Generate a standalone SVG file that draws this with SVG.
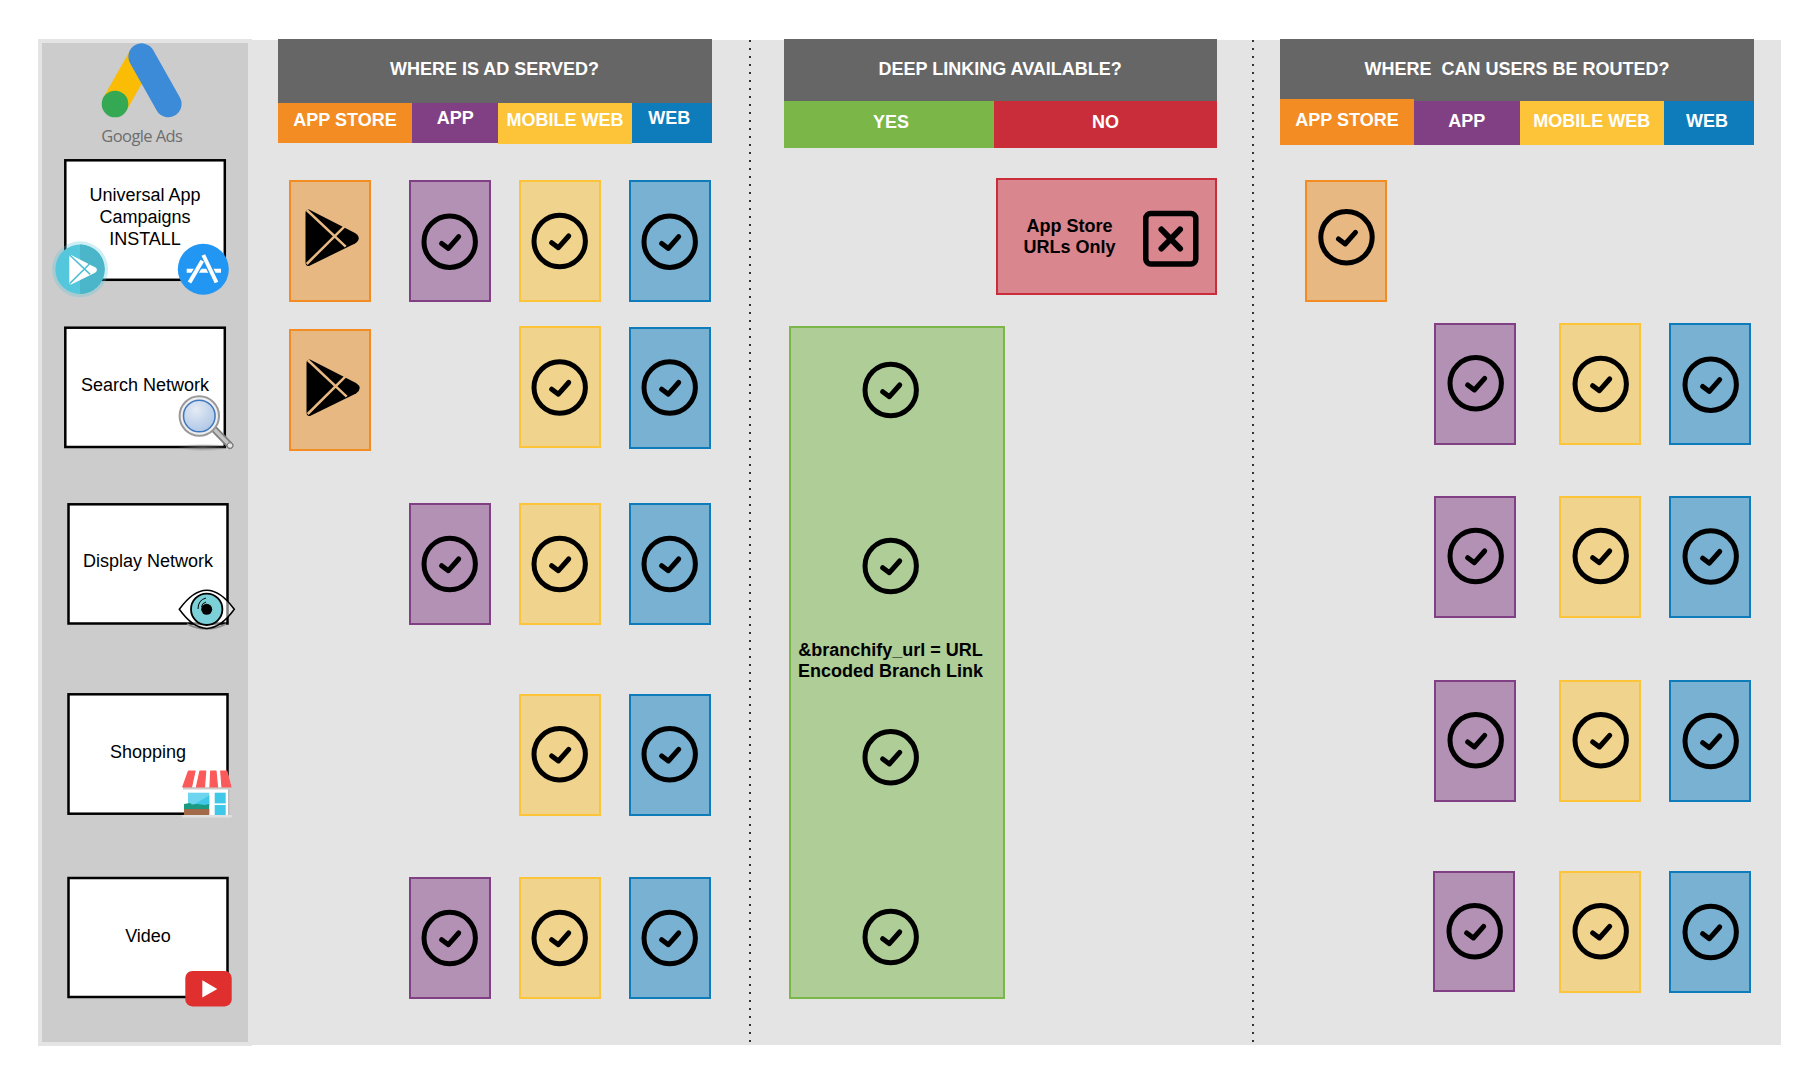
<svg xmlns="http://www.w3.org/2000/svg" width="1820" height="1085" viewBox="0 0 1820 1085">
<style>
text{font-family:"Liberation Sans",Arial,sans-serif;text-anchor:middle}
.h{font-size:18px;font-weight:700;fill:#fff}
.l{font-size:18px;fill:#000}
.b{font-size:18px;font-weight:700;fill:#000}
.box{fill:#fff;stroke:#000;stroke-width:2.5}
.co{fill:#e8b883;stroke:#f28c23;stroke-width:2}
.cp{fill:#b391b4;stroke:#824084;stroke-width:2}
.cy{fill:#f0d38c;stroke:#fdc43a;stroke-width:2}
.cb{fill:#78b1d1;stroke:#0e7cba;stroke-width:2}
.sep{stroke:#333;stroke-width:2;stroke-dasharray:2 6;fill:none}
</style>
<defs>
<g id="ok"><circle r="25.700" fill="none" stroke="#000" stroke-width="5"/><path d="M-8 1.700L-1.300 6.700L9 -5" fill="none" stroke="#000" stroke-width="5" stroke-linecap="round" stroke-linejoin="round"/></g>
<path id="pl" d="M309 209.500L355 233Q362.500 238 355 243.500L309 266Q305.500 266.500 305.500 262L305.500 213Q305.500 209 309 209.500Z"/>
<radialGradient id="lens" cx="0.400" cy="0.300" r="0.800"><stop offset="0" stop-color="#e4ebf4"/><stop offset="1" stop-color="#a9c3e4"/></radialGradient>
<radialGradient id="shad"><stop offset="0" stop-color="#666" stop-opacity=".7"/><stop offset="1" stop-color="#888" stop-opacity="0"/></radialGradient>
</defs>

<g id="background">
<rect x="38" y="40" width="1743" height="1005" fill="#e4e4e4"/>
<rect x="38" y="39" width="214" height="1007" fill="#e4e4e4"/>
<rect x="42" y="43" width="206" height="999" fill="#ccc"/>
</g>

<g id="connectors">
<line class="sep" x1="750" y1="40" x2="750" y2="1045"/>
<line class="sep" x1="1253" y1="40" x2="1253" y2="1045"/>
</g>

<g id="header-served">
<rect x="278" y="39" width="434" height="64" fill="#666"/>
<text class="h" x="494.500" y="75">WHERE IS AD SERVED?</text>
<rect x="278" y="103" width="134" height="40" fill="#f28c23"/><text class="h" x="345" y="126">APP STORE</text>
<rect x="412" y="103" width="86" height="40" fill="#824084"/><text class="h" x="455.300" y="124.300">APP</text>
<rect x="498" y="103" width="134" height="41" fill="#fdc43a"/><text class="h" x="565" y="125.700">MOBILE WEB</text>
<rect x="632" y="103" width="80" height="40" fill="#0e7cba"/><text class="h" x="669.200" y="124.300">WEB</text>
</g>
<g id="header-deeplink">
<rect x="784" y="39" width="433" height="62" fill="#666"/>
<text class="h" x="1000.200" y="75">DEEP LINKING AVAILABLE?</text>
<rect x="784" y="101" width="210" height="47" fill="#7ab648"/><text class="h" x="891" y="128">YES</text>
<rect x="994" y="101" width="223" height="47" fill="#c92d39"/><text class="h" x="1105.400" y="128">NO</text>
</g>
<g id="header-routed">
<rect x="1280" y="39" width="474" height="62" fill="#666"/>
<text class="h" x="1517" y="75" xml:space="preserve">WHERE  CAN USERS BE ROUTED?</text>
<rect x="1280" y="99" width="134" height="46" fill="#f28c23"/><text class="h" x="1347" y="126">APP STORE</text>
<rect x="1414" y="101" width="106" height="44" fill="#824084"/><text class="h" x="1466.800" y="126.700">APP</text>
<rect x="1520" y="101" width="144" height="44" fill="#fdc43a"/><text class="h" x="1591.800" y="126.700">MOBILE WEB</text>
<rect x="1664" y="101" width="90" height="44" fill="#0e7cba"/><text class="h" x="1707" y="126.700">WEB</text>
</g>

<g id="google-ads-logo">
<line x1="115" y1="104" x2="141.700" y2="56.700" stroke="#fabc04" stroke-width="26.600"/>
<line x1="141.700" y1="56.700" x2="168.300" y2="104" stroke="#3c8bd9" stroke-width="26.600" stroke-linecap="round"/>
<circle cx="115" cy="104" r="13.300" fill="#34a853"/>
<text x="141.800" y="142" style="font-family:'Open Sans',sans-serif;font-size:16.500px;letter-spacing:-.6px" fill="#6e6e6e">Google Ads</text>
</g>

<g id="node-uac">
<rect class="box" x="65.300" y="160.300" width="159.500" height="119.500"/>
<text class="l" x="145" y="201.200">Universal App</text><text class="l" x="145" y="222.800">Campaigns</text><text class="l" x="145" y="244.500">INSTALL</text>
<circle cx="80" cy="269.300" r="28" fill="#5cc8dc" opacity=".3"/>
<circle cx="80" cy="269.300" r="24.700" fill="#55c7dd"/>
<path d="M80 244.600A24.700 24.700 0 0 1 80 294Z" fill="#4bb5c9"/>
<g transform="translate(69.300 255) scale(.52) translate(-305.500 -209.500)"><use href="#pl" fill="#fff"/><path d="M306.700 210L345.700 246.700M306.700 264L344.300 226.700" stroke="#50bfd4" stroke-width="3"/></g>
<circle cx="203.300" cy="269.300" r="25.500" fill="#2196f3"/>
<line x1="186.700" y1="270.700" x2="221" y2="270.700" stroke="#fff" stroke-width="4"/>
<line x1="202.300" y1="260.700" x2="189.500" y2="282.500" stroke="#2196f3" stroke-width="6.500"/>
<line x1="203.300" y1="255" x2="216.500" y2="282.500" stroke="#2196f3" stroke-width="6.500"/>
<line x1="202.300" y1="260.700" x2="189.500" y2="282.500" stroke="#fff" stroke-width="4"/>
<line x1="203.300" y1="255" x2="216.500" y2="282.500" stroke="#fff" stroke-width="4"/>
</g>

<g id="node-search">
<rect class="box" x="65.300" y="327.700" width="159.500" height="119.300"/>
<text class="l" x="145" y="391">Search Network</text>
<ellipse cx="203" cy="447.500" rx="26" ry="4" fill="url(#shad)"/>
<line x1="215" y1="430" x2="230" y2="445.500" stroke="#7f7f7f" stroke-width="7" stroke-linecap="round"/>
<line x1="215" y1="430" x2="230" y2="445.500" stroke="#c4c4c4" stroke-width="3.500" stroke-linecap="round"/>
<circle cx="230" cy="445.500" r="2.800" fill="#e4e4e4" stroke="#777"/>
<circle cx="199.300" cy="416" r="19.700" fill="#eee" stroke="#999" stroke-width="2"/>
<circle cx="199.300" cy="416" r="15.800" fill="url(#lens)" stroke="#3f76bd" stroke-width="1.500"/>
</g>

<g id="node-display">
<rect class="box" x="68.500" y="504.300" width="159" height="119.200"/>
<text class="l" x="148" y="567.300">Display Network</text>
<path d="M187 624Q206.700 634 226 624" fill="none" stroke="#888" stroke-width="1.500"/>
<path d="M179.300 609.300Q206.700 571 234.300 609.300Q206.700 647.500 179.300 609.300Z" fill="#fff" fill-opacity=".5" stroke="#000" stroke-width="1.500"/>
<circle cx="206.700" cy="609.300" r="15.700" fill="#7cd0d8" stroke="#000" stroke-width="1.800"/>
<circle cx="206.700" cy="609.300" r="5.500" fill="#000"/>
<path d="M198 609Q198 600 206 598M201.500 607Q202 603 206 602" fill="none" stroke="#000" stroke-width="1"/>
</g>

<g id="node-shopping">
<rect class="box" x="68.500" y="694.300" width="159" height="119.400"/>
<text class="l" x="148" y="758.300">Shopping</text>
<rect x="185" y="788" width="43" height="27" fill="#fff"/>
<rect x="228" y="788" width="1.500" height="27" fill="#bbb"/>
<rect x="188" y="792.700" width="21.300" height="20.300" fill="#6dd5f0"/>
<path d="M188 808L209.300 795.500V806L200 813H188Z" fill="#3fc8e8"/>
<rect x="214.700" y="792.700" width="11" height="10.700" fill="#3fc8e8"/>
<rect x="214.700" y="805" width="11" height="10" fill="#3fc8e8"/>
<path d="M184 804L190 803L192 804.500L197 804L205 805L209 804V809H184Z" fill="#1a9a80"/>
<rect x="184" y="809" width="25.300" height="6" fill="#a36a4a"/>
<rect x="182" y="815" width="49.700" height="2.500" fill="#e0e0e0"/>
<path d="M182 787H231.700L226.700 771H187Z" fill="#fff"/>
<rect x="183" y="787" width="47.700" height="2.500" fill="#ccc"/>
<path d="M182.800 787H191.500L195 771H188.500ZM196.500 787H204.500L205.700 771H200ZM210 787H217.500L216 771H210.700ZM222 787H231L226.700 771H220.700Z" fill="#fb5a5a" stroke="#fb5a5a" stroke-width="1.200" stroke-linejoin="round"/>
</g>

<g id="node-video">
<rect class="box" x="68.500" y="878" width="159" height="119"/>
<text class="l" x="148" y="942">Video</text>
<rect x="185.300" y="971" width="46.400" height="35.400" rx="7" fill="#e02f2f"/>
<path d="M202.300 980.200L217.300 988.900L202.300 997.600Z" fill="#fff"/>
</g>

<g id="served-row1">
<g id="s1-store"><rect class="co" x="290" y="181" width="80" height="120"/><use href="#pl" fill="#000"/><path d="M306.700 210L345.700 246.700M306.700 264L344.300 226.700" stroke="#e8b883" stroke-width="2.500"/></g>
<g id="s1-app"><rect class="cp" x="410" y="181" width="80" height="120"/><use href="#ok" x="449.700" y="241.700"/></g>
<g id="s1-mweb"><rect class="cy" x="520" y="181" width="80" height="120"/><use href="#ok" x="559.700" y="241"/></g>
<g id="s1-web"><rect class="cb" x="630" y="181" width="80" height="120"/><use href="#ok" x="669.700" y="241.700"/></g>
</g>
<g id="served-row2">
<g id="s2-store"><rect class="co" x="290" y="330" width="80" height="120"/><g transform="translate(1 150)"><use href="#pl" fill="#000"/><path d="M306.700 210L345.700 246.700M306.700 264L344.300 226.700" stroke="#e8b883" stroke-width="2.500"/></g></g>
<g id="s2-mweb"><rect class="cy" x="520" y="327" width="80" height="120"/><use href="#ok" x="559.700" y="387.500"/></g>
<g id="s2-web"><rect class="cb" x="630" y="328" width="80" height="120"/><use href="#ok" x="669.700" y="387.500"/></g>
</g>
<g id="served-row3">
<g id="s3-app"><rect class="cp" x="410" y="504" width="80" height="120"/><use href="#ok" x="449.700" y="564"/></g>
<g id="s3-mweb"><rect class="cy" x="520" y="504" width="80" height="120"/><use href="#ok" x="559.700" y="564"/></g>
<g id="s3-web"><rect class="cb" x="630" y="504" width="80" height="120"/><use href="#ok" x="669.700" y="564"/></g>
</g>
<g id="served-row4">
<g id="s4-mweb"><rect class="cy" x="520" y="695" width="80" height="120"/><use href="#ok" x="559.700" y="754.300"/></g>
<g id="s4-web"><rect class="cb" x="630" y="695" width="80" height="120"/><use href="#ok" x="669.700" y="754.300"/></g>
</g>
<g id="served-row5">
<g id="s5-app"><rect class="cp" x="410" y="878" width="80" height="120"/><use href="#ok" x="449.700" y="938"/></g>
<g id="s5-mweb"><rect class="cy" x="520" y="878" width="80" height="120"/><use href="#ok" x="559.700" y="938"/></g>
<g id="s5-web"><rect class="cb" x="630" y="878" width="80" height="120"/><use href="#ok" x="669.700" y="938"/></g>
</g>

<g id="deep-no">
<rect x="997" y="179" width="219" height="115" fill="#d9868e" stroke="#c92d39" stroke-width="2"/>
<text class="b" x="1069.600" y="232">App Store</text><text class="b" x="1069.600" y="253">URLs Only</text>
<rect x="1145.800" y="213.500" width="50" height="50.500" rx="5" fill="none" stroke="#000" stroke-width="5.500"/>
<path d="M1161.500 229.500L1180 248.500M1180 229.500L1161.500 248.500" stroke="#000" stroke-width="6" stroke-linecap="round"/>
</g>
<g id="deep-yes">
<rect x="790" y="327" width="214" height="671" fill="#afcd97" stroke="#7ab648" stroke-width="2"/>
<use href="#ok" x="890.700" y="390"/>
<use href="#ok" x="890.700" y="566"/>
<text class="b" x="890.500" y="656">&amp;branchify_url = URL</text><text class="b" x="890.500" y="677">Encoded Branch Link</text>
<use href="#ok" x="890.700" y="757.300"/>
<use href="#ok" x="890.700" y="937"/>
</g>

<g id="routed-row1">
<g id="r1-store"><rect class="co" x="1306" y="181" width="80" height="120"/><use href="#ok" x="1346.500" y="237.300"/></g>
</g>
<g id="routed-row2">
<g id="r2-app"><rect class="cp" x="1435" y="324" width="80" height="120"/><use href="#ok" x="1475.700" y="383.300"/></g>
<g id="r2-mweb"><rect class="cy" x="1560" y="324" width="80" height="120"/><use href="#ok" x="1600.700" y="384"/></g>
<g id="r2-web"><rect class="cb" x="1670" y="324" width="80" height="120"/><use href="#ok" x="1710.700" y="384.700"/></g>
</g>
<g id="routed-row3">
<g id="r3-app"><rect class="cp" x="1435" y="497" width="80" height="120"/><use href="#ok" x="1475.700" y="556"/></g>
<g id="r3-mweb"><rect class="cy" x="1560" y="497" width="80" height="120"/><use href="#ok" x="1600.700" y="556"/></g>
<g id="r3-web"><rect class="cb" x="1670" y="497" width="80" height="120"/><use href="#ok" x="1710.700" y="556.500"/></g>
</g>
<g id="routed-row4">
<g id="r4-app"><rect class="cp" x="1435" y="681" width="80" height="120"/><use href="#ok" x="1475.700" y="740.300"/></g>
<g id="r4-mweb"><rect class="cy" x="1560" y="681" width="80" height="120"/><use href="#ok" x="1600.700" y="740.300"/></g>
<g id="r4-web"><rect class="cb" x="1670" y="681" width="80" height="120"/><use href="#ok" x="1710.700" y="741"/></g>
</g>
<g id="routed-row5">
<g id="r5-app"><rect class="cp" x="1434" y="872" width="80" height="119"/><use href="#ok" x="1474.700" y="931.300"/></g>
<g id="r5-mweb"><rect class="cy" x="1560" y="872" width="80" height="120"/><use href="#ok" x="1600.700" y="931.300"/></g>
<g id="r5-web"><rect class="cb" x="1670" y="872" width="80" height="120"/><use href="#ok" x="1710.700" y="932"/></g>
</g>
</svg>
